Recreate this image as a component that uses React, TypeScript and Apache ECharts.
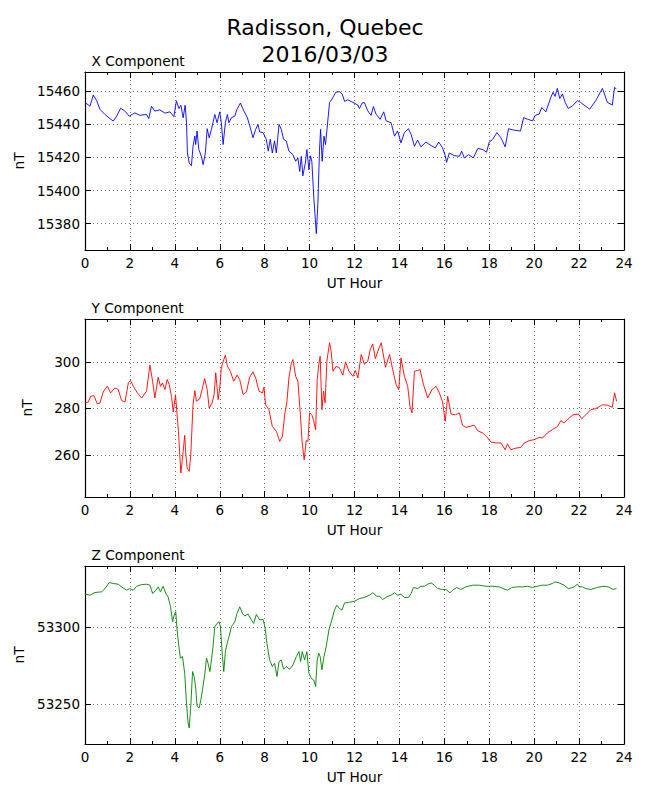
import React, { useEffect, useRef } from "react";
import * as echarts from "echarts";

const HOUR_MIN = 0;
const HOUR_MAX = 24;
const HOUR_STEP = 2;

const X_TICKS = [15380, 15400, 15420, 15440, 15460];
const Y_TICKS = [260, 280, 300];
const Z_TICKS = [53250, 53300];

const X_RANGE = [15364, 15471.7];
const Y_RANGE = [242, 318.4];
const Z_RANGE = [53224, 53340];

const PANEL_TITLES = ["X Component", "Y Component", "Z Component"];
const TITLE_LINES = ["Radisson, Quebec", "2016/03/03"];

const xComponent: [number, number][] = [
  [0, 15453.3], [0.22, 15451], [0.37, 15457.8], [0.52, 15454.3], [0.67, 15449], [0.89, 15446],
  [1.11, 15443.5], [1.26, 15442], [1.41, 15445], [1.59, 15449.8], [1.78, 15448], [1.97, 15445],
  [2.22, 15447], [2.44, 15445.5], [2.74, 15446], [2.84, 15443.5], [2.96, 15451], [3.11, 15448],
  [3.33, 15448.8], [3.56, 15446.8], [3.78, 15447.6], [3.96, 15444.7], [4.07, 15454.3], [4.18, 15449.6],
  [4.27, 15451.6], [4.37, 15444], [4.46, 15451.6], [4.52, 15441], [4.56, 15422.7], [4.64, 15416.6],
  [4.74, 15415], [4.81, 15426.8], [4.89, 15432.9], [4.93, 15427.8], [4.99, 15436], [5.07, 15424.8],
  [5.19, 15420.3], [5.26, 15415.6], [5.36, 15422.7], [5.44, 15437.4], [5.53, 15431.9], [5.63, 15437],
  [5.78, 15446], [5.88, 15441], [6.0, 15447.6], [6.07, 15441], [6.15, 15427.8], [6.25, 15441],
  [6.34, 15446], [6.41, 15441], [6.52, 15444.1], [6.67, 15445], [6.77, 15449.2], [6.92, 15452.9],
  [7.07, 15448.2], [7.23, 15444.1], [7.36, 15438], [7.48, 15431.9], [7.6, 15437], [7.7, 15440],
  [7.78, 15435.4], [7.93, 15435], [8.07, 15431], [8.16, 15423.8], [8.25, 15431], [8.34, 15422.7],
  [8.44, 15430], [8.52, 15422.7], [8.64, 15440], [8.74, 15437], [8.84, 15431], [8.96, 15430],
  [9.08, 15423.8], [9.26, 15421.7], [9.38, 15417.7], [9.48, 15419.7], [9.56, 15411.5], [9.63, 15420.7],
  [9.7, 15408.9], [9.81, 15416.6], [9.88, 15424.8], [9.97, 15412.6], [10.04, 15421], [10.1, 15417.7],
  [10.19, 15395.3], [10.3, 15373.9], [10.37, 15392.2], [10.44, 15423.8], [10.49, 15437], [10.56, 15417.7],
  [10.64, 15432.9], [10.71, 15427.8], [10.81, 15442], [10.89, 15453.3], [11.0, 15455.3], [11.16, 15459.4],
  [11.33, 15459.8], [11.45, 15458.4], [11.56, 15453.9], [11.7, 15454.9], [11.93, 15453.3], [12.15, 15451.7],
  [12.22, 15449.6], [12.34, 15452.9], [12.44, 15453.3], [12.59, 15448.2], [12.74, 15445.5], [12.84, 15450.8],
  [12.96, 15446.2], [13.14, 15443.1], [13.3, 15447.6], [13.41, 15442.1], [13.63, 15441], [13.78, 15432.9],
  [13.92, 15436], [14.07, 15428.8], [14.22, 15435], [14.4, 15437.4], [14.52, 15433.9], [14.67, 15426.8],
  [14.81, 15430.5], [14.96, 15426.4], [15.18, 15429.3], [15.41, 15427.2], [15.6, 15425.8], [15.75, 15429.3],
  [15.92, 15425.8], [16.04, 15421.1], [16.1, 15417], [16.22, 15422.7], [16.44, 15421.1], [16.67, 15420.7],
  [16.77, 15423.8], [16.89, 15419.7], [17.08, 15421.7], [17.29, 15419.7], [17.49, 15425.4], [17.71, 15424.8],
  [17.88, 15423.2], [18.0, 15429.3], [18.15, 15430.9], [18.34, 15435], [18.52, 15431.9], [18.71, 15426.4],
  [18.86, 15437.4], [19.07, 15436.6], [19.39, 15436], [19.53, 15444.1], [19.71, 15443.1], [19.93, 15442.1],
  [20.05, 15445.5], [20.22, 15446.2], [20.34, 15450.2], [20.52, 15447.6], [20.74, 15456.3], [20.84, 15459.4],
  [20.93, 15456.9], [21.03, 15461.8], [21.14, 15455.7], [21.26, 15458.4], [21.38, 15453.3], [21.52, 15449.6],
  [21.7, 15451.2], [21.93, 15454.3], [22.07, 15453.3], [22.22, 15451.7], [22.47, 15449.2], [22.74, 15454.3],
  [23.04, 15461.8], [23.26, 15453.3], [23.48, 15451.7], [23.58, 15462.4], [23.66, 15461.4],
];

const yComponent: [number, number][] = [
  [0, 282.4], [0.15, 282.8], [0.25, 285.2], [0.4, 285.5], [0.55, 281.9], [0.67, 282.4],
  [0.81, 287.1], [0.99, 289.5], [1.14, 286.7], [1.33, 288.8], [1.48, 288.1], [1.63, 283.4],
  [1.78, 282.8], [1.93, 291], [2.03, 292], [2.15, 289.5], [2.33, 286.7], [2.52, 284.5],
  [2.74, 287.4], [2.89, 298.6], [3.01, 291.7], [3.11, 284.5], [3.26, 293.4], [3.36, 289.5],
  [3.45, 291], [3.56, 288.1], [3.66, 292.4], [3.75, 290.3], [3.85, 285.2], [3.93, 278.5],
  [4.03, 285.9], [4.1, 277.3], [4.16, 270.2], [4.22, 260.1], [4.27, 252.3], [4.37, 261.6],
  [4.44, 268.5], [4.49, 260.1], [4.55, 254.4], [4.64, 253], [4.71, 260.1], [4.81, 281.6],
  [4.89, 287.7], [4.96, 283.1], [5.11, 284.2], [5.23, 288.8], [5.33, 292.8], [5.44, 288.1],
  [5.53, 280.2], [5.66, 282.4], [5.75, 286], [5.82, 295.3], [5.93, 283.8], [6.0, 288.8],
  [6.07, 297.4], [6.18, 301], [6.25, 302.9], [6.34, 298.1], [6.47, 296], [6.62, 291.7],
  [6.77, 294.3], [6.89, 292.4], [7.04, 286], [7.19, 287.1], [7.33, 293.4], [7.48, 295.7],
  [7.6, 293.1], [7.75, 287.4], [7.9, 286.7], [7.97, 289.1], [8.04, 281.6], [8.19, 279.5],
  [8.34, 272.3], [8.52, 270.2], [8.67, 265.9], [8.79, 268], [8.89, 277.3], [8.99, 282.8],
  [9.08, 293.1], [9.19, 299.6], [9.26, 301], [9.38, 293.8], [9.48, 291.7], [9.59, 277.3],
  [9.67, 265.2], [9.76, 258], [9.85, 266.2], [9.93, 265.9], [10.0, 278.1], [10.1, 277.3],
  [10.18, 274.8], [10.27, 270.9], [10.34, 292.4], [10.41, 298.9], [10.47, 302.4], [10.55, 279.5],
  [10.62, 287.4], [10.69, 282.4], [10.77, 300.3], [10.89, 308.2], [10.96, 304.6], [11.04, 296],
  [11.19, 298.1], [11.33, 297.4], [11.48, 294.3], [11.6, 300], [11.75, 296], [11.93, 293.8],
  [12.04, 296.3], [12.15, 293.1], [12.3, 303.2], [12.44, 298.9], [12.59, 300.3], [12.7, 305.3],
  [12.81, 307.7], [12.93, 301.4], [13.04, 304.6], [13.19, 308.2], [13.38, 297.7], [13.56, 303.2],
  [13.7, 296.7], [13.85, 290.3], [13.97, 288.1], [14.07, 301.7], [14.22, 293.8], [14.37, 289.5],
  [14.47, 280.9], [14.56, 278.1], [14.67, 296], [14.81, 296.3], [14.92, 296.7], [15.07, 290.3],
  [15.26, 284.5], [15.45, 288.1], [15.63, 289.5], [15.78, 286.7], [15.92, 282.8], [16.04, 274.5],
  [16.15, 285.2], [16.3, 277.6], [16.49, 277.3], [16.67, 278.1], [16.81, 272.8], [16.96, 271.9],
  [17.14, 272.3], [17.33, 272.8], [17.48, 270.5], [17.7, 269.5], [17.88, 268], [18.07, 265.6],
  [18.3, 265.2], [18.52, 265.2], [18.71, 262.3], [18.81, 264.8], [18.96, 262.3], [19.19, 263],
  [19.41, 263.3], [19.56, 265.2], [19.78, 266.2], [20.0, 266.6], [20.22, 267.6], [20.37, 267.3],
  [20.59, 269.5], [20.81, 270.9], [21.04, 272.3], [21.19, 274.8], [21.33, 273.8], [21.56, 275.9],
  [21.73, 277.3], [21.97, 277.6], [22.12, 275.6], [22.3, 277.3], [22.52, 279.5], [22.74, 279.9],
  [23.04, 281.6], [23.26, 281.4], [23.48, 280.5], [23.58, 286.7], [23.67, 283.1],
];

const zComponent: [number, number][] = [
  [0, 53321.6], [0.22, 53321], [0.44, 53322.7], [0.74, 53323.2], [0.89, 53325.3], [1.08, 53329.2],
  [1.26, 53328.6], [1.48, 53328.1], [1.63, 53326.4], [1.85, 53324.2], [2.0, 53325.3], [2.15, 53324.2],
  [2.3, 53326.8], [2.52, 53327.9], [2.74, 53328.1], [2.89, 53327.5], [3.01, 53322.1], [3.16, 53324.2],
  [3.26, 53326.4], [3.36, 53323.2], [3.48, 53326.8], [3.6, 53322.1], [3.7, 53319.9], [3.81, 53313.4],
  [3.9, 53303.7], [3.97, 53308], [4.04, 53310.2], [4.1, 53298.3], [4.18, 53287.4], [4.25, 53279.9],
  [4.34, 53281], [4.44, 53270.1], [4.52, 53250.6], [4.59, 53237.7], [4.64, 53234.4], [4.71, 53248.5],
  [4.79, 53271.2], [4.86, 53268], [4.93, 53260.4], [4.99, 53248.5], [5.08, 53247.4], [5.16, 53252.8],
  [5.23, 53259.3], [5.33, 53269], [5.41, 53279.9], [5.48, 53276.6], [5.56, 53271.2], [5.63, 53278.8],
  [5.7, 53287.4], [5.78, 53300.4], [5.88, 53302.6], [5.97, 53303.7], [6.03, 53300.4], [6.12, 53281],
  [6.18, 53271.2], [6.25, 53284.2], [6.33, 53289.6], [6.41, 53293.9], [6.52, 53300.4], [6.67, 53303.7],
  [6.77, 53309.1], [6.89, 53313.4], [7.01, 53309.1], [7.11, 53307.4], [7.26, 53308.7], [7.41, 53304.8],
  [7.51, 53302.6], [7.63, 53308.4], [7.78, 53304.8], [7.93, 53305.2], [8.01, 53300.4], [8.1, 53289.6],
  [8.22, 53278.8], [8.34, 53274.5], [8.44, 53276.6], [8.55, 53268], [8.64, 53277.7], [8.74, 53278.8],
  [8.84, 53272.7], [8.96, 53274.5], [9.11, 53272.7], [9.26, 53275.5], [9.41, 53281], [9.53, 53284.2],
  [9.6, 53277.7], [9.67, 53284.2], [9.78, 53278.8], [9.88, 53284.2], [9.97, 53270.1], [10.07, 53266.9],
  [10.18, 53265.8], [10.27, 53261.5], [10.34, 53278.8], [10.41, 53283.1], [10.47, 53281], [10.55, 53272.3],
  [10.64, 53281], [10.74, 53287.4], [10.86, 53298.3], [10.99, 53304.8], [11.11, 53311.3], [11.21, 53314.5],
  [11.33, 53312.3], [11.44, 53311.3], [11.56, 53316], [11.78, 53316.4], [12.0, 53317], [12.22, 53318.8],
  [12.44, 53319.5], [12.67, 53321], [12.81, 53322.5], [12.99, 53320.3], [13.11, 53320.3], [13.26, 53318.2],
  [13.44, 53319.9], [13.63, 53321], [13.78, 53322.5], [13.92, 53321], [14.07, 53321.6], [14.22, 53319.5],
  [14.41, 53319.5], [14.52, 53322.1], [14.63, 53326], [14.81, 53325.3], [14.96, 53326.8], [15.11, 53326.8],
  [15.26, 53328.1], [15.41, 53329], [15.56, 53327.5], [15.7, 53325.3], [15.92, 53324.7], [16.07, 53324.7],
  [16.25, 53322.5], [16.37, 53324.2], [16.55, 53326], [16.74, 53324.7], [16.96, 53326.4], [17.26, 53327.5],
  [17.56, 53327.5], [17.85, 53326.8], [18.15, 53326.8], [18.44, 53326.4], [18.62, 53325.3], [18.81, 53324.2],
  [19.0, 53326], [19.26, 53326.4], [19.48, 53326.4], [19.7, 53326.8], [19.93, 53326], [20.15, 53326.8],
  [20.37, 53327.5], [20.59, 53327.5], [20.81, 53328.6], [20.93, 53329.7], [21.11, 53329], [21.33, 53327.5],
  [21.52, 53325.3], [21.73, 53326], [21.93, 53328.1], [22.0, 53326.4], [22.15, 53326.4], [22.3, 53325.3],
  [22.52, 53324.7], [22.81, 53326], [23.07, 53326.8], [23.3, 53326.4], [23.51, 53324.7], [23.66, 53325.3],
];

const FONT = "DejaVu Sans";
const GRID_LEFT = 85;
const GRID_WIDTH = 539;
const GRID_HEIGHT = 178;
const GRID_TOPS = [72, 319, 566];
const PANEL_STEP = 247;

export default function App() {
  const ref = useRef<HTMLDivElement>(null);

  useEffect(() => {
    if (!ref.current) return;
    const chart = echarts.init(ref.current, undefined, { renderer: "svg" });

    const panels = [
      { data: xComponent, ticks: X_TICKS, range: X_RANGE, color: "#0000ff" },
      { data: yComponent, ticks: Y_TICKS, range: Y_RANGE, color: "#ff0000" },
      { data: zComponent, ticks: Z_TICKS, range: Z_RANGE, color: "#008000" },
    ];

    const axisLine = { show: true, onZero: false, lineStyle: { color: "#000", width: 1.2 } };
    const splitLine = { show: true, lineStyle: { color: "#000", width: 0.7, type: [1, 3] as number[], opacity: 0.8 } };
    const labelStyle = { color: "#000", fontFamily: FONT, fontSize: 13.5 };
    const plain = (v: number) => String(v);

    const grid: any[] = [];
    const xAxis: any[] = [];
    const yAxis: any[] = [];
    const series: any[] = [];

    panels.forEach((p, i) => {
      grid.push({ left: GRID_LEFT, top: GRID_TOPS[i], width: GRID_WIDTH, height: GRID_HEIGHT, containLabel: false });
      const xBase = {
        type: "value",
        gridIndex: i,
        min: HOUR_MIN,
        max: HOUR_MAX,
        interval: HOUR_STEP,
        axisLine,
        axisTick: { show: true, inside: true, length: 6, lineStyle: { color: "#000", width: 1 } },
        minorTick: { show: true, splitNumber: 2, length: 3, lineStyle: { color: "#000", width: 1 } },
      };
      xAxis.push({
        ...xBase,
        position: "bottom",
        name: "UT Hour",
        nameLocation: "middle",
        nameGap: 26,
        nameTextStyle: { ...labelStyle, fontSize: 13.7 },
        axisLabel: { ...labelStyle, margin: 6, formatter: plain },
        splitLine,
      });
      xAxis.push({
        ...xBase,
        position: "top",
        axisLabel: { show: false },
        splitLine: { show: false },
      });
      const yBase = {
        type: "value",
        gridIndex: i,
        min: p.range[0],
        max: p.range[1],
        scale: true,
        axisLine,
        axisTick: { show: true, inside: true, length: 6, customValues: p.ticks, lineStyle: { color: "#000", width: 1 } },
      };
      yAxis.push({
        ...yBase,
        position: "left",
        name: "nT",
        nameLocation: "middle",
        nameRotate: 90,
        nameGap: 51,
        nameTextStyle: { ...labelStyle, fontSize: 13.7 },
        axisLabel: { ...labelStyle, margin: 5, customValues: p.ticks, formatter: plain },
        splitLine,
      });
      yAxis.push({
        ...yBase,
        position: "right",
        axisLabel: { show: false },
        splitLine: { show: false },
      });
      series.push({
        type: "line",
        xAxisIndex: i * 2,
        yAxisIndex: i * 2,
        data: p.data,
        showSymbol: false,
        symbol: "none",
        lineStyle: { color: p.color, width: 0.9 },
        itemStyle: { color: p.color },
      });
    });

    const graphic: any[] = [
      ...TITLE_LINES.map((t, k) => ({
        type: "text",
        x: 325,
        y: 27 + k * 27,
        style: { text: t, fill: "#000", font: `22px "${FONT}"`, textAlign: "center", textVerticalAlign: "middle" },
      })),
      ...PANEL_TITLES.map((t, k) => ({
        type: "text",
        x: 91.5,
        y: 60.5 + k * PANEL_STEP,
        style: { text: t, fill: "#000", font: `13.7px "${FONT}"`, textAlign: "left", textVerticalAlign: "middle" },
      })),
    ];

    chart.setOption({
      animation: false,
      backgroundColor: "#fff",
      grid,
      xAxis,
      yAxis,
      series,
      graphic,
    });

    return () => chart.dispose();
  }, []);

  return (
    <div
      ref={ref}
      style={{ position: "absolute", left: 0, top: 0, width: 650, height: 800 }}
    />
  );
}
